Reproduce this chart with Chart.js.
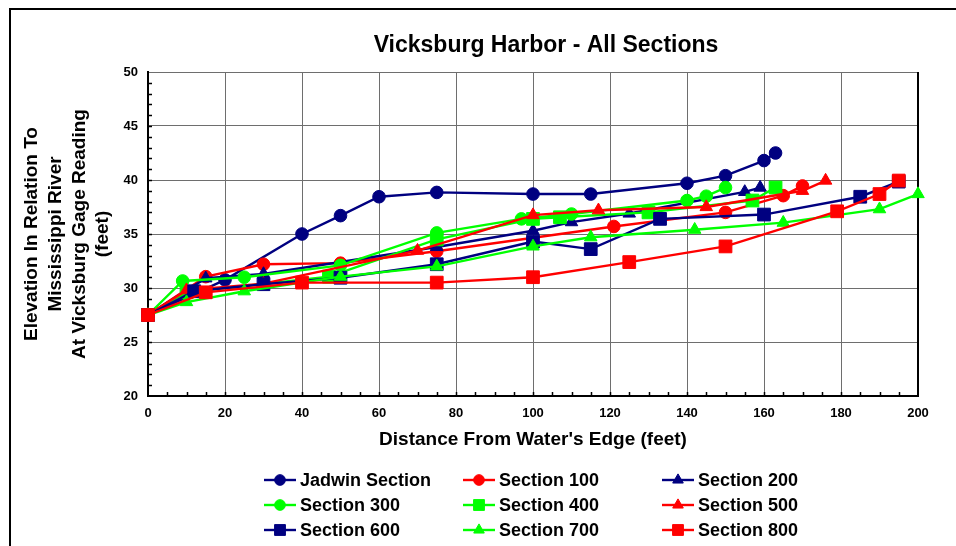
<!DOCTYPE html>
<html><head><meta charset="utf-8">
<script src="https://cdn.jsdelivr.net/npm/chart.js@4.4.0/dist/chart.umd.min.js"></script>
<style>html,body{margin:0;padding:0;background:#fff;overflow:hidden}</style>
</head><body>
<canvas id="c" width="956" height="546"></canvas>
<script>
// ---------- data ----------
const chartTitle = 'Vicksburg Harbor - All Sections';
const xTitle = "Distance From Water's Edge (feet)";
const yTitle = ['Elevation In Relation To', 'Mississippi River', 'At Vicksburg Gage Reading', '(feet)'];
const seriesNames = ['Jadwin Section', 'Section 100', 'Section 200', 'Section 300', 'Section 400', 'Section 500', 'Section 600', 'Section 700', 'Section 800'];

const jadwinX = [0, 20, 40, 50, 60, 75, 100, 115, 140, 150, 160, 163];
const jadwinY = [27.5, 30.75, 35.0, 36.7, 38.45, 38.85, 38.7, 38.7, 39.7, 40.4, 41.8, 42.5];
const s100X = [0, 15, 30, 50, 75, 121, 150, 165, 170];
const s100Y = [27.5, 31.05, 32.2, 32.3, 33.4, 35.7, 37.0, 38.55, 39.45];
const s200X = [0, 15, 30, 75, 100, 110, 125, 155, 159];
const s200Y = [27.5, 30.9, 31.3, 33.8, 35.3, 36.1, 36.9, 38.9, 39.3];
const s300X = [0, 9, 25, 50, 75, 97, 110, 140, 145, 150];
const s300Y = [27.5, 30.65, 31.0, 32.1, 35.1, 36.4, 36.85, 38.1, 38.5, 39.3];
const s400X = [0, 10, 47, 75, 100, 107, 130, 157, 163];
const s400Y = [27.5, 29.6, 31.05, 34.5, 36.4, 36.55, 37.0, 38.1, 39.3];
const s500X = [0, 10, 30, 70, 100, 117, 145, 170, 176];
const s500Y = [27.5, 29.8, 30.4, 33.46, 36.75, 37.2, 37.5, 39.0, 39.95];
const s600X = [0, 12, 30, 50, 75, 100, 115, 133, 160, 185, 195];
const s600Y = [27.5, 29.7, 30.35, 30.95, 32.2, 34.3, 33.6, 36.4, 36.8, 38.45, 39.85];
const s700X = [0, 10, 25, 50, 75, 100, 115, 142, 165, 190, 200];
const s700Y = [27.5, 28.7, 29.7, 31.05, 32.0, 33.85, 34.7, 35.4, 36.05, 37.3, 38.7];
const s800X = [0, 15, 40, 75, 100, 125, 150, 179, 190, 195];
const s800Y = [27.5, 29.6, 30.5, 30.5, 31.0, 32.4, 33.85, 37.1, 38.7, 39.95];

const xTickLabels = ['0','20','40','60','80','100','120','140','160','180','200'];
const yTickLabels = ['20','25','30','35','40','45','50'];

// ---------- styles ----------
const NAVY = '#000080', RED = '#FF0000', LIME = '#00FF00';
const FONT = '"Liberation Sans", Arial, sans-serif';
const seriesX = [jadwinX, s100X, s200X, s300X, s400X, s500X, s600X, s700X, s800X];
const seriesY = [jadwinY, s100Y, s200Y, s300Y, s400Y, s500Y, s600Y, s700Y, s800Y];
const colors = [NAVY, RED, NAVY, LIME, LIME, RED, NAVY, LIME, RED];
const shapes = ['circle', 'circle', 'triangle', 'circle', 'rect', 'triangle', 'rect', 'triangle', 'rect'];
const radiusFor = {circle: 6.3, rect: 9, triangle: 7.2};

const datasets = seriesNames.map((name, i) => ({
  label: name,
  data: seriesX[i].map((x, k) => ({x: x, y: seriesY[i][k]})),
  borderColor: colors[i],
  backgroundColor: colors[i],
  pointBackgroundColor: colors[i],
  pointBorderColor: colors[i],
  pointBorderWidth: 1,
  pointStyle: shapes[i],
  pointRadius: radiusFor[shapes[i]],
  borderWidth: 2.4,
  tension: 0,
  clip: false,
  order: seriesNames.length - 1 - i
}));

const decor = {
  id: 'decor',
  beforeDraw(chart) {
    const ctx = chart.ctx;
    ctx.save();
    ctx.fillStyle = '#fff';
    ctx.fillRect(0, 0, chart.width, chart.height);
    ctx.strokeStyle = '#000';
    ctx.lineWidth = 2;
    ctx.beginPath();
    ctx.moveTo(10, chart.height + 2);
    ctx.lineTo(10, 9);
    ctx.lineTo(chart.width + 2, 9);
    ctx.stroke();
    ctx.restore();
  },
  beforeDatasetsDraw(chart) {
    const ctx = chart.ctx, a = chart.chartArea;
    const xs = chart.scales.x, ys = chart.scales.y;
    ctx.save();
    ctx.strokeStyle = '#000';
    ctx.lineWidth = 1.5;
    ctx.beginPath();
    for (let v = ys.min + 1; v < ys.max; v += 1) {
      const py = Math.round(ys.getPixelForValue(v)) + 0.5;
      ctx.moveTo(a.left, py); ctx.lineTo(a.left + 4, py);
    }
    for (let v = xs.min + 5; v < xs.max; v += 5) {
      const px = Math.round(xs.getPixelForValue(v)) + 0.5;
      ctx.moveTo(px, a.bottom); ctx.lineTo(px, a.bottom - 4);
    }
    ctx.stroke();
    ctx.lineWidth = 2;
    ctx.beginPath();
    ctx.moveTo(a.right, a.top); ctx.lineTo(a.right, a.bottom + 1);
    ctx.stroke();
    ctx.restore();
  },
  afterDraw(chart) {
    const ctx = chart.ctx, a = chart.chartArea;
    ctx.save();
    ctx.fillStyle = '#000';
    ctx.font = 'bold 23px ' + FONT;
    ctx.textAlign = 'center';
    ctx.textBaseline = 'middle';
    ctx.fillText(chartTitle, (a.left + a.right) / 2 + 13, 46);
    // legend (3 x 3 grid)
    const colX = [280, 479, 678];
    const rowY = [480, 505, 530];
    chart.data.datasets.forEach((ds, i) => {
      const cx = colX[i % 3], cy = rowY[Math.floor(i / 3)];
      ctx.strokeStyle = ds.borderColor;
      ctx.lineWidth = 2.4;
      ctx.beginPath();
      ctx.moveTo(cx - 16, cy); ctx.lineTo(cx + 16, cy);
      ctx.stroke();
      ctx.fillStyle = ds.backgroundColor;
      ctx.strokeStyle = ds.borderColor;
      ctx.lineWidth = 1;
      Chart.helpers.drawPoint(ctx, {pointStyle: ds.pointStyle, radius: ds.pointRadius * 0.85, rotation: 0, borderWidth: 1}, cx, cy);
      ctx.fillStyle = '#000';
      ctx.font = 'bold 18px ' + FONT;
      ctx.textAlign = 'left';
      ctx.textBaseline = 'middle';
      ctx.fillText(ds.label, cx + 20, cy + 1);
    });
    ctx.restore();
  }
};

new Chart(document.getElementById('c'), {
  type: 'line',
  data: {datasets: datasets},
  plugins: [decor],
  options: {
    responsive: false,
    animation: false,
    devicePixelRatio: 1,
    layout: {padding: {left: 0, right: 38, top: 72, bottom: 80}},
    plugins: {legend: {display: false}, title: {display: false}, tooltip: {enabled: false}},
    scales: {
      x: {
        type: 'linear', min: 0, max: 200,
        afterFit: s => { s.height = 70; },
        afterBuildTicks: s => { s.ticks = xTickLabels.map(t => ({value: Number(t)})); },
        ticks: {color: '#000', font: {family: FONT, size: 13, weight: 'bold'}, padding: 10, maxRotation: 0,
                callback: v => String(v)},
        grid: {color: '#6e6e6e', lineWidth: 1, drawTicks: false},
        border: {display: true, color: '#000', width: 2},
        title: {display: true, text: xTitle, color: '#000', font: {family: FONT, size: 19, weight: 'bold', lineHeight: 1.25}, padding: {top: 0, bottom: 14}}
      },
      y: {
        type: 'linear', min: 20, max: 50,
        afterFit: s => { s.width = 148; },
        afterBuildTicks: s => { s.ticks = yTickLabels.map(t => ({value: Number(t)})); },
        ticks: {color: '#000', font: {family: FONT, size: 13, weight: 'bold'}, padding: 10,
                callback: v => String(v)},
        grid: {color: '#6e6e6e', lineWidth: 1, drawTicks: false},
        border: {display: true, color: '#000', width: 2},
        title: {display: true, text: yTitle, color: '#000', font: {family: FONT, size: 19, weight: 'bold', lineHeight: 1.25}, padding: {top: 20, bottom: 0}}
      }
    }
  }
});
</script>
</body></html>
